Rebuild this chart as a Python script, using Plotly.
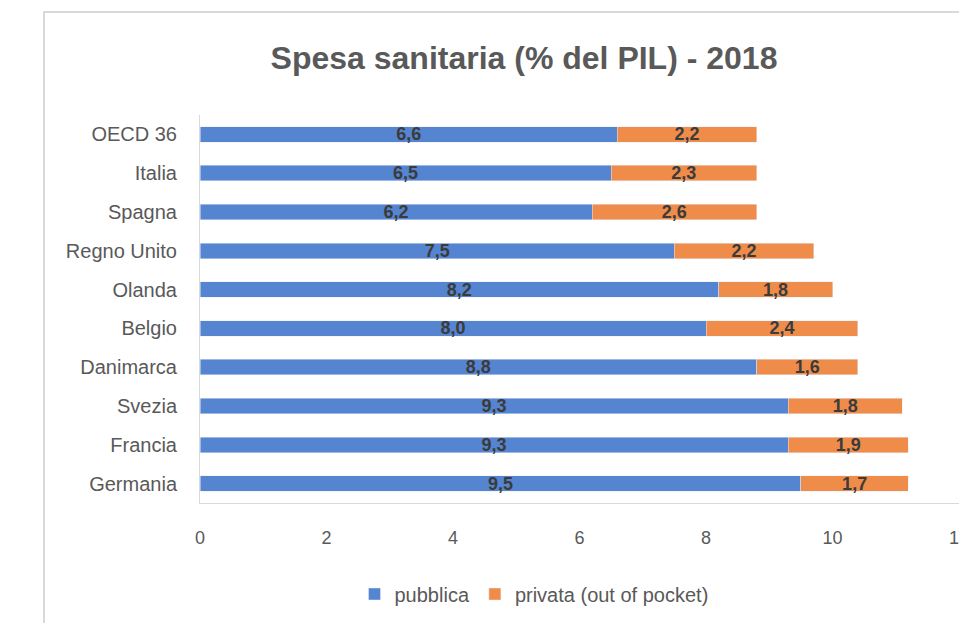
import plotly.graph_objects as go

paesi = ["Germania", "Francia", "Svezia", "Danimarca", "Belgio",
         "Olanda", "Regno Unito", "Spagna", "Italia", "OECD 36"]
pubblica = [9.5, 9.3, 9.3, 8.8, 8.0, 8.2, 7.5, 6.2, 6.5, 6.6]
privata = [1.7, 1.9, 1.8, 1.6, 2.4, 1.8, 2.2, 2.6, 2.3, 2.2]
x_ticks = [0, 2, 4, 6, 8, 10, 12]

FONT = "Liberation Sans Narrow, Arial Narrow, Liberation Sans, Arial"
GREY = "#595959"
LABEL = "#3b3b3b"

W, H = 959, 623
L, R, T, B = 200, 0, 115, 120
pw, ph = W - L - R, H - T - B

fig = go.Figure()
fig.add_trace(go.Bar(
    y=paesi, x=pubblica, orientation="h", name="pubblica",
    marker=dict(color="#5584D0"),
    texttemplate="<b>%{x:.1f}</b>", textposition="inside", insidetextanchor="middle",
    constraintext="none", textfont=dict(family=FONT, size=18, color=LABEL),
))
fig.add_trace(go.Bar(
    y=paesi, x=privata, orientation="h", name="privata (out of pocket)",
    marker=dict(color="#F08C4A"),
    texttemplate="<b>%{x:.1f}</b>", textposition="inside", insidetextanchor="middle",
    constraintext="none", textfont=dict(family=FONT, size=18, color=LABEL),
))

# chart frame border (light grey)
fig.add_shape(type="rect", xref="paper", yref="paper",
              x0=(44 - L) / pw, x1=(W + 20 - L) / pw,
              y0=-(B + 20) / ph, y1=(H - B - 12) / ph,
              line=dict(color="#D9D9D9", width=2), fillcolor="rgba(0,0,0,0)",
              layer="below")

fig.update_layout(
    width=W, height=H,
    margin=dict(l=L, r=R, t=T, b=B),
    barmode="stack", bargap=0.6,
    separators=",.",
    paper_bgcolor="white", plot_bgcolor="white",
    font=dict(family=FONT, color=GREY),
    title=dict(text="<b>Spesa sanitaria (% del PIL) - 2018</b>",
               x=524 / W, xref="container", xanchor="center",
               y=1 - 58 / H, yref="container", yanchor="middle",
               font=dict(family=FONT, size=32, color=GREY)),
    showlegend=True,
    legend=dict(orientation="h", x=(534 - L) / pw, xanchor="center",
                y=(H - B - 594) / ph, yanchor="middle",
                font=dict(family=FONT, size=20, color=GREY),
                traceorder="normal", itemwidth=30),
    # the original chart is cropped on the right, "12" is cut at the edge
    xaxis=dict(range=[0, 12], tickvals=x_ticks, showgrid=False, zeroline=False,
               showline=True, linecolor="#D9D9D9", linewidth=1, automargin=False,
               ticks="", ticklabelstandoff=18, ticklabeloverflow="allow",
               tickfont=dict(family=FONT, size=18, color=GREY)),
    yaxis=dict(showgrid=False, showline=True, linecolor="#D9D9D9", linewidth=1,
               ticks="", ticklabelstandoff=18, automargin=False,
               tickfont=dict(family=FONT, size=20, color=GREY)),
)

# drop the default page margin so the figure fills the window exactly
fig.write_html("out.html", config={"displayModeBar": False}, post_script=(
    "document.body.style.margin='0';"
    "document.body.style.overflow='hidden';"
))
